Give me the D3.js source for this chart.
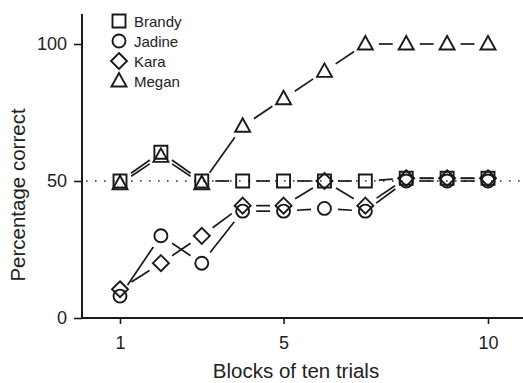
<!DOCTYPE html>
<html><head><meta charset="utf-8">
<script src="https://cdn.jsdelivr.net/npm/d3@7"></script>
<style>body{margin:0;background:#fff}svg{display:block}text{font-family:"Liberation Sans",Arial,sans-serif;fill:#222}</style>
</head><body><svg id="c" width="523" height="383"></svg>
<script>
const blocks = [1,2,3,4,5,6,7,8,9,10];
const brandy = [50,60.5,50,50,50,50,50,51,51,51];
const jadine = [8,30,20,39,39,40,39,50,50,50];
const kara   = [10.5,20,30,41,41,50,41,51,51,51];
const megan  = [49,59,49,70,80,90,100,100,100,100];
const seriesNames = ["Brandy","Jadine","Kara","Megan"];
const seriesShapes = ["square","circle","diamond","triangle"];
const xTicks = [1,5,10];
const yTicks = [0,50,100];
const chanceLevel = 50;

const svg = d3.select("#c");
const x = d3.scaleLinear().domain([1,10]).range([120,488]);
const y = d3.scaleLinear().domain([0,100]).range([318,44]);
const ink = "#1a1a1a";

// axes
const gx = svg.append("g").attr("transform","translate(0,318)")
  .call(d3.axisBottom(x).tickValues(xTicks).tickSize(6).tickSizeOuter(0).tickPadding(12));
gx.select(".domain").remove();
svg.append("line").attr("x1",82).attr("x2",523).attr("y1",318).attr("y2",318).attr("stroke",ink).attr("stroke-width",2);
const gy = svg.append("g").attr("transform","translate(82,0)")
  .call(d3.axisLeft(y).tickValues(yTicks).tickSize(8).tickSizeOuter(0).tickPadding(7));
gy.select(".domain").remove();
svg.append("line").attr("x1",82).attr("x2",82).attr("y1",14).attr("y2",318).attr("stroke",ink).attr("stroke-width",2);
svg.selectAll(".tick line").attr("stroke",ink).attr("stroke-width",1.6);
svg.selectAll(".tick text").attr("font-size",18).attr("fill","#222").style("font-family",'"Liberation Sans",Arial,sans-serif');

// chance line
svg.append("line").attr("x1",86).attr("x2",523).attr("y1",y(chanceLevel)).attr("y2",y(chanceLevel))
  .attr("stroke","#333").attr("stroke-width",1.6).attr("stroke-dasharray","1.6,7.4");

// titles
svg.append("text").attr("x",296).attr("y",378).attr("text-anchor","middle").attr("font-size",20.5).text("Blocks of ten trials");
svg.append("text").attr("transform","translate(25,195) rotate(-90)").attr("text-anchor","middle").attr("font-size",20.5).text("Percentage correct");

function marker(g, shape, cx, cy){
  const s = g.append("path").attr("fill","none").attr("stroke",ink).attr("stroke-width",1.9);
  let d;
  if(shape==="square") d=`M${cx-6.5},${cy-6.5}h13v13h-13Z`;
  else if(shape==="circle") d=`M${cx+6.5},${cy}A6.5,6.5 0 1 1 ${cx-6.5},${cy}A6.5,6.5 0 1 1 ${cx+6.5},${cy}`;
  else if(shape==="diamond") d=`M${cx},${cy-8}L${cx+8},${cy}L${cx},${cy+8}L${cx-8},${cy}Z`;
  else d=`M${cx},${cy-8}L${cx+7.5},${cy+5.5}L${cx-7.5},${cy+5.5}Z`;
  s.attr("d",d);
}

const allSeries = [brandy,jadine,kara,megan];
const gap = 13.5;
allSeries.forEach((vals,i)=>{
  const g = svg.append("g");
  for(let k=0;k<vals.length-1;k++){
    const x1=x(blocks[k]),y1=y(vals[k]),x2=x(blocks[k+1]),y2=y(vals[k+1]);
    const dx=x2-x1,dy=y2-y1,L=Math.hypot(dx,dy);
    if(L<2*gap) continue;
    const ux=dx/L,uy=dy/L;
    g.append("line").attr("x1",x1+ux*gap).attr("y1",y1+uy*gap).attr("x2",x2-ux*gap).attr("y2",y2-uy*gap)
      .attr("stroke",ink).attr("stroke-width",1.7);
  }
  vals.forEach((v,k)=>marker(g,seriesShapes[i],x(blocks[k]),y(v)));
});

// legend
seriesNames.forEach((n,i)=>{
  const ly = 21 + i*20;
  marker(svg, seriesShapes[i], 119, ly);
  svg.append("text").attr("x",134).attr("y",ly+5.5).attr("font-size",15).text(n);
});
</script></body></html>
